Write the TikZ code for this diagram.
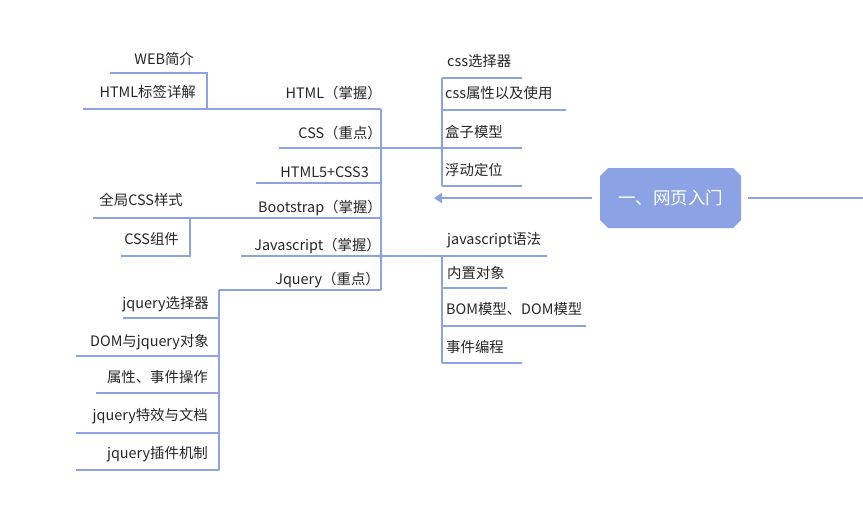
\documentclass[tikz,border=0pt]{standalone}
\usepackage{fontspec}
\setmainfont{Noto Sans CJK SC}
\usetikzlibrary{arrows.meta}
\usetikzlibrary{shapes.misc}
\definecolor{branchblue}{RGB}{139,163,228}
\tikzstyle{branch}=[draw=branchblue,line width=2pt]
\tikzstyle{lefttopic}=[font=\fontsize{14.4}{17}\selectfont,text=black!85,
  inner sep=0pt,anchor=base east]
\tikzstyle{righttopic}=[lefttopic,anchor=base west]
\tikzstyle{root}=[chamfered rectangle,chamfered rectangle xsep=4pt,
  chamfered rectangle ysep=4pt,fill=branchblue,minimum width=141pt,
  minimum height=60pt,inner sep=0pt,text=white,
  font=\fontsize{17.5}{20}\selectfont]

\begin{document}
\begin{tikzpicture}[x=1pt,y=-1pt]
  \useasboundingbox[fill=white] (0,0) rectangle (863,506);

  % Central topic.
  \node[root] (web) at (670.5,198) {一、网页入门};
  \coordinate (webin) at (434,198);
  \draw[branch,-{Triangle[length=8pt,width=10pt]}]
    ([xshift=-8pt]web.west) -- (webin);
  \draw[branch] ([xshift=7pt]web.east) -- (863,198);

  % Main branch labels.
  \node[lefttopic] (html) at (382,98) {HTML（掌握）};
  \node[lefttopic] (css) at (382,138) {CSS（重点）};
  \node[lefttopic] (h5) at (369,177) {HTML5+CSS3};
  \node[lefttopic] (boot) at (382,212) {Bootstrap（掌握）};
  \node[lefttopic] (js) at (381,250) {Javascript（掌握）};
  \node[lefttopic] (jq) at (380,284) {Jquery（重点）};

  % Main branch lines.
  \draw[branch] (381,109) -- (381,290);
  \draw[branch] (83,109) -- (381,109);
  \draw[branch] (279,148) -- (442,148);
  \draw[branch] (256,183) -- (381,183);
  \draw[branch] (93,218) -- (381,218);
  \draw[branch] (241,256) -- (547,256);
  \draw[branch] (219,290) -- (381,290);

  % HTML children.
  \node[lefttopic] (intro) at (194,64) {WEB简介};
  \node[lefttopic] (tags) at (196,97) {HTML标签详解};
  \draw[branch] (110,73) -- (207,73) -- (207,109);

  % Bootstrap children.
  \node[lefttopic] (global) at (183,205) {全局CSS样式};
  \node[lefttopic] (parts) at (179,244) {CSS组件};
  \draw[branch] (121,256) -- (190,256) -- (190,218);

  % CSS children.
  \node[righttopic] (selector) at (447,66) {css选择器};
  \node[righttopic] (props) at (445,98) {css属性以及使用};
  \node[righttopic] (box) at (445,137) {盒子模型};
  \node[righttopic] (float) at (445,175) {浮动定位};
  \draw[branch] (442,78) -- (442,186);
  \draw[branch] (442,78) -- (522,78);
  \draw[branch] (442,110) -- (566,110);
  \draw[branch] (442,148) -- (522,148);
  \draw[branch] (442,186) -- (522,186);

  % Javascript children.
  \node[righttopic] (grammar) at (447,244) {javascript语法};
  \node[righttopic] (builtin) at (447,278) {内置对象};
  \node[righttopic] (bom) at (446,314) {BOM模型、DOM模型};
  \node[righttopic] (event) at (446,352) {事件编程};
  \draw[branch] (442,256) -- (442,363);
  \draw[branch] (442,288) -- (507,288);
  \draw[branch] (442,326) -- (586,326);
  \draw[branch] (442,363) -- (522,363);

  % Jquery children.
  \node[lefttopic] (jqsel) at (209,308) {jquery选择器};
  \node[lefttopic] (jqdom) at (209,346) {DOM与jquery对象};
  \node[lefttopic] (jqattr) at (208,382) {属性、事件操作};
  \node[lefttopic] (jqfx) at (208,420) {jquery特效与文档};
  \node[lefttopic] (jqplug) at (208,458) {jquery插件机制};
  \draw[branch] (219,290) -- (219,470);
  \draw[branch] (123,318) -- (219,318);
  \draw[branch] (76,356) -- (219,356);
  \draw[branch] (96,393) -- (219,393);
  \draw[branch] (76,433) -- (219,433);
  \draw[branch] (76,470) -- (219,470);
\end{tikzpicture}
\end{document}
